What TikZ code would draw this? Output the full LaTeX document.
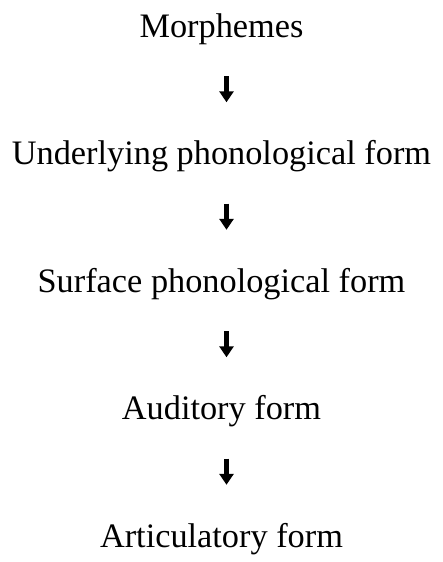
\documentclass[tikz,border=0pt]{standalone}
\usepackage{fontspec}
\setmainfont{Liberation Serif}
\usetikzlibrary{arrows.meta}
\begin{document}
\begin{tikzpicture}[x=1pt,y=1pt,
  level/.style={inner sep=0pt, anchor=base, text height=22pt, text depth=8pt, font=\fontsize{34.3}{40}\selectfont},
  step arrow/.style={line width=4.2pt, -{Triangle[width=14pt,length=11pt]}, shorten <=31pt, shorten >=40pt}]
\useasboundingbox (0,0) rectangle (443,-562);
\node[level] (morph) at (221.5,-37) {Morphemes};
\node[level] (under) at (221.5,-164.5) {Underlying phonological form};
\node[level] (surf) at (221.5,-292) {Surface phonological form};
\node[level] (aud) at (221.5,-419.5) {Auditory form};
\node[level] (artic) at (221.5,-547) {Articulatory form};
\draw[step arrow] ([xshift=5pt]morph.south) -- ([xshift=5pt]under.north);
\draw[step arrow] ([xshift=5pt]under.south) -- ([xshift=5pt]surf.north);
\draw[step arrow] ([xshift=5pt]surf.south) -- ([xshift=5pt]aud.north);
\draw[step arrow] ([xshift=5pt]aud.south) -- ([xshift=5pt]artic.north);
\end{tikzpicture}
\end{document}
